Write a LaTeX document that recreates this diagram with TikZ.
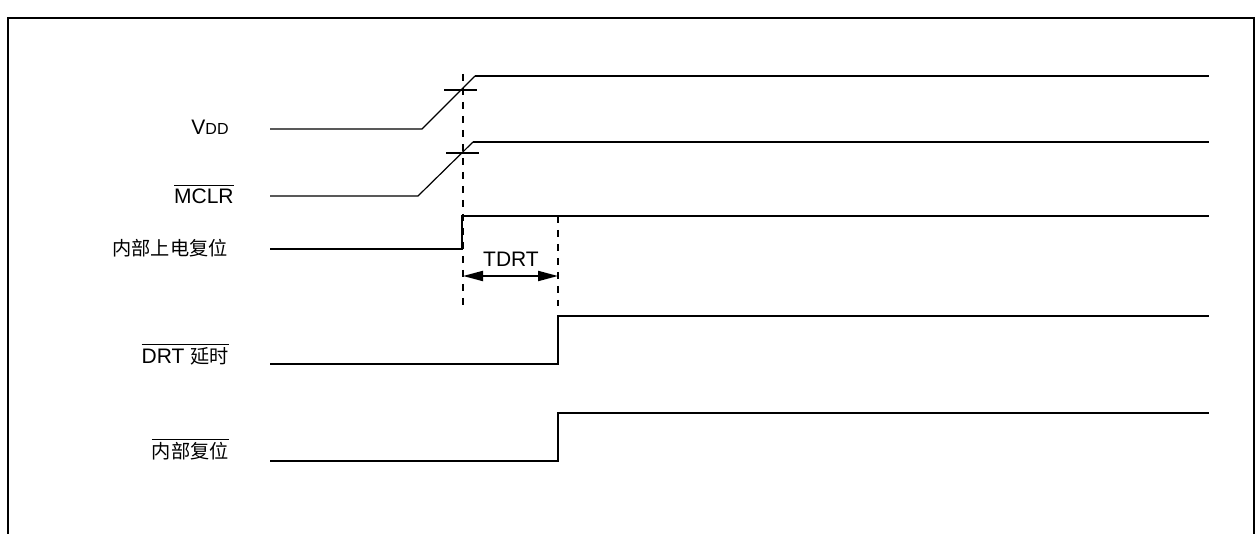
\documentclass[tikz,border=0pt]{standalone}
\usepackage{fontspec}
\setmainfont{Liberation Sans}
\newfontfamily\cjk{Noto Sans CJK SC}
\usepackage{tikz}
\usetikzlibrary{arrows.meta}

\newcommand{\zh}[1]{{\cjk\fontsize{9.6}{12}\selectfont #1}}

\begin{document}
\begin{tikzpicture}[x=0.5pt,y=-0.5pt,font=\fontsize{10.5}{12}\selectfont,
  sig/.style={line width=1pt},
  slope/.style={line width=0.6pt},
  guide/.style={line width=1pt, dash pattern=on 3.5pt off 3.5pt},
  lab/.style={left, inner sep=0pt}]
\useasboundingbox (0,0) rectangle (1259,534);
\draw[line width=1pt] (8,534) -- (8,18) -- (1254,18) -- (1254,534);
% signal names
\node[lab] (vdd) at (229,127) {V{\fontsize{8}{9}\selectfont DD}};
\node[lab] (mclr) at (234,194) {$\overline{\hbox{MCLR}}$};
\node[lab] (por) at (228,248) {\zh{内部上电复位}};
\node[lab] (drt) at (229,354) {$\overline{\hbox{DRT \zh{延时}}}$};
\node[lab] (rst) at (229,449) {$\overline{\hbox{\zh{内部复位}}}$};
% VDD and MCLR ramps
\draw[slope] (270,129) -- (422,129) -- (475,76);
\draw[sig] (475,76) -- (1209,76);
\draw[sig] (444,90) -- (477,90);
\draw[slope] (270,196) -- (418,196) -- (473,142);
\draw[sig] (473,142) -- (1209,142);
\draw[sig] (446,153) -- (479,153);
% steps
\draw[sig] (270,249) -- (462,249) -- (462,216) -- (1209,216);
\draw[sig] (270,364) -- (558,364) -- (558,316) -- (1209,316);
\draw[sig] (270,461) -- (558,461) -- (558,413) -- (1209,413);
% delay
\draw[guide] (463,74) -- (463,306);
\draw[guide] (558,216) -- (558,306);
\coordinate (t0) at (463,276);
\coordinate (t1) at (558,276);
\draw[sig, {Triangle[length=10pt,width=5pt]}-{Triangle[length=10pt,width=5pt]}] (t0) -- (t1);
\node (tdrt) at (511,259) {TDRT};
\end{tikzpicture}
\end{document}
